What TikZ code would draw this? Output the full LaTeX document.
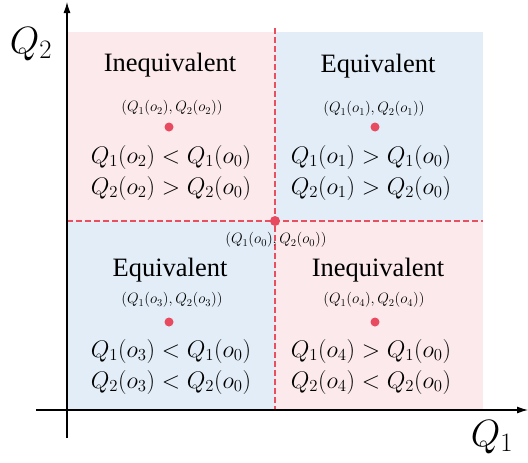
\RequirePackage{fix-cm}
\documentclass[tikz,border=0pt]{standalone}
\usepackage[no-math]{fontspec}
\setmainfont{Liberation Serif}
\usetikzlibrary{arrows.meta}
\definecolor{pinkbg}{HTML}{FCE9EB}
\definecolor{bluebg}{HTML}{E2EDF7}
\definecolor{dotred}{HTML}{E84A5F}
\definecolor{linered}{HTML}{E8505F}
\tikzset{
  title/.style={font=\fontsize{26.5}{30}\selectfont, inner sep=0pt},
  small/.style={font=\fontsize{15}{17}\selectfont, inner sep=0pt},
  mathl/.style={font=\fontsize{24}{27}\selectfont, inner sep=0pt},
  axlab/.style={font=\fontsize{38}{42}\selectfont, inner sep=0pt},
  pt/.style={circle, fill=dotred, inner sep=0pt, minimum size=9pt},
  cpt/.style={circle, fill=dotred, inner sep=0pt, minimum size=10pt},
  dline/.style={color=linered, dash pattern=on 6pt off 3pt, line width=1.2pt},
  axis/.style={line width=1.1pt, -{Latex[length=11pt,width=7pt]}}
}
\begin{document}
\begin{tikzpicture}[x=1pt,y=-1pt]
\useasboundingbox (0,0) rectangle (528,463);
% backgrounds
\fill[pinkbg] (67,32) rectangle (275,221);
\fill[bluebg] (275,32) rectangle (483,221);
\fill[bluebg] (67,221) rectangle (275,410);
\fill[pinkbg] (275,221) rectangle (483,410);
% dashed lines
\coordinate (vtop) at (275,28);
\coordinate (vbot) at (275,410);
\coordinate (hl) at (67,221);
\coordinate (hr) at (483,221);
\draw[dline] (vtop) -- (vbot);
\draw[dline] (hl) -- (hr);
% axes
\coordinate (ys) at (67,438);
\coordinate (ye) at (67,2);
\coordinate (xs) at (36,410);
\coordinate (xe) at (528,410);
\draw[axis] (ys) -- (ye);
\draw[axis] (xs) -- (xe);
\node[axlab] (q2) at (31,44) {$Q_2$};
\node[axlab] (q1) at (492,437) {$Q_1$};
% center
\node[cpt] (c) at (275,221) {};
\node[small] (cl) at (276,240) {$(Q_1(o_0),Q_2(o_0))$};
% TL
\node[title] (t2) at (170,65) {Inequivalent};
\node[small] (l2) at (172,108) {$(Q_1(o_2),Q_2(o_2))$};
\node[pt] (p2) at (169,127) {};
\node[mathl] (a2) at (171,157) {$Q_1(o_2) < Q_1(o_0)$};
\node[mathl] (b2) at (171,188) {$Q_2(o_2) > Q_2(o_0)$};
% TR
\node[title] (t1) at (378,66) {Equivalent};
\node[small] (l1) at (374,109) {$(Q_1(o_1),Q_2(o_1))$};
\node[pt] (p1) at (375,127) {};
\node[mathl] (a1) at (371,157) {$Q_1(o_1) > Q_1(o_0)$};
\node[mathl] (b1) at (371,188) {$Q_2(o_1) > Q_2(o_0)$};
% BL
\node[title] (t3) at (170,270) {Equivalent};
\node[small] (l3) at (172,300) {$(Q_1(o_3),Q_2(o_3))$};
\node[pt] (p3) at (169,322) {};
\node[mathl] (a3) at (171,351) {$Q_1(o_3) < Q_1(o_0)$};
\node[mathl] (b3) at (171,382) {$Q_2(o_3) < Q_2(o_0)$};
% BR
\node[title] (t4) at (378,270) {Inequivalent};
\node[small] (l4) at (374,300) {$(Q_1(o_4),Q_2(o_4))$};
\node[pt] (p4) at (375,322) {};
\node[mathl] (a4) at (371,351) {$Q_1(o_4) > Q_1(o_0)$};
\node[mathl] (b4) at (371,382) {$Q_2(o_4) < Q_2(o_0)$};
\end{tikzpicture}
\end{document}
